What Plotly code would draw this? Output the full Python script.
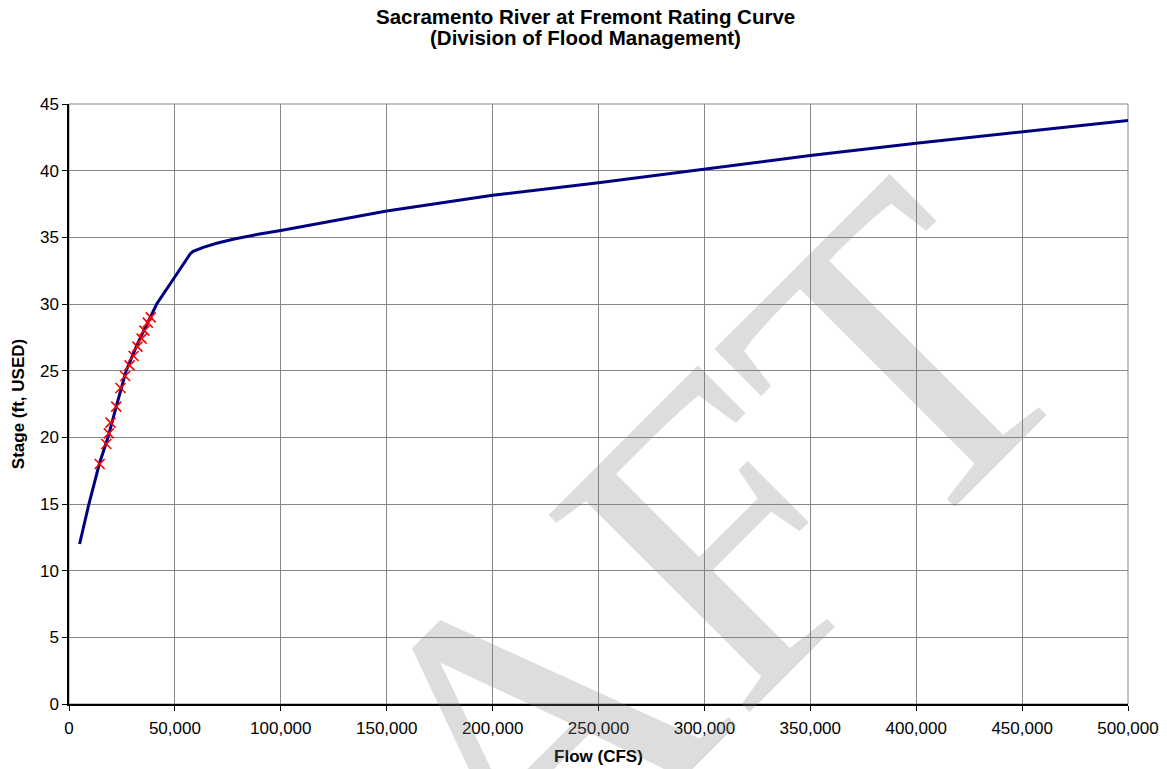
import plotly.graph_objects as go

# Rating curve (flow in CFS, stage in ft USED)
curve_flow = [5000, 9400, 14300, 18400, 22300, 27000, 32000, 36500,
              41400, 49000, 57200, 58600, 63400, 69700, 78000, 90000, 100000, 150000,
              200000, 250000, 300000, 350000, 400000, 450000, 500000]
curve_stage = [12.0, 15.0, 18.0, 20.0, 22.3, 25.0, 26.9, 28.4,
               30.0, 31.8, 33.75, 33.95, 34.25, 34.56, 34.88, 35.25, 35.52, 36.98,
               38.15, 39.1, 40.1, 41.13, 42.06, 42.93, 43.76]

# Measured points (red crosses)
meas_flow = [14500, 17600, 18800, 19600, 22300, 24300, 26500, 28600, 30500,
             32300, 34300, 35600, 37200, 38600]
meas_stage = [18.0, 19.5, 20.3, 21.1, 22.3, 23.7, 24.6, 25.4, 26.1,
              26.8, 27.4, 28.0, 28.6, 29.0]

x_ticks = list(range(0, 500001, 50000))
y_ticks = list(range(0, 46, 5))

title_lines = ["Sacramento River at Fremont Rating Curve", "(Division of Flood Management)"]
x_title = "Flow (CFS)"
y_title = "Stage (ft, USED)"
watermark = "DRAFT"

fig = go.Figure()
fig.add_trace(go.Scatter(
    x=curve_flow, y=curve_stage, mode="lines",
    line=dict(color="#000080", width=3),
    showlegend=False, hoverinfo="skip",
))
fig.add_trace(go.Scatter(
    x=meas_flow, y=meas_stage, mode="markers",
    marker=dict(symbol="x-thin", size=10, line=dict(color="#FF0000", width=1.6), color="#FF0000"),
    showlegend=False,
))

grid = "#868686"
fig.update_layout(
    width=1167, height=769,
    margin=dict(l=69, r=39, t=104, b=65, pad=0, autoexpand=False),
    paper_bgcolor="white", plot_bgcolor="white",
    font=dict(family="Liberation Sans, Arial, sans-serif", size=17, color="black"),
    xaxis=dict(
        range=[0, 500000], tickvals=x_ticks, tickformat=",d", automargin=False,
        showgrid=True, gridcolor=grid, gridwidth=1,
        showline=True, linecolor="black", linewidth=1.5,
        ticks="outside", ticklen=5, tickcolor="black", tickwidth=1,
        ticklabelstandoff=3,
        zeroline=False,
        title=dict(text="<b>" + x_title + "</b>", font=dict(size=17), standoff=13),
        tickfont=dict(size=17),
    ),
    yaxis=dict(
        range=[0, 45], tickvals=y_ticks, automargin=False,
        showgrid=True, gridcolor=grid, gridwidth=1,
        showline=True, linecolor="black", linewidth=1.5,
        ticks="outside", ticklen=5, tickcolor="black", tickwidth=1,
        zeroline=False,
        title=dict(text="<b>" + y_title + "</b>", font=dict(size=17), standoff=11),
        tickfont=dict(size=17),
    ),
)

# plot area border (top/right in gridline gray)
fig.add_shape(type="rect", xref="paper", yref="paper", x0=0, y0=0, x1=1, y1=1,
              line=dict(color=grid, width=1), layer="below")

# Two-line bold title
for txt, ypix in zip(title_lines, [16.5, 37.5]):
    fig.add_annotation(
        text="<b>" + txt + "</b>", xref="paper", yref="paper",
        x=(585 - 69) / 1059, y=(704 - ypix) / 600,
        xanchor="center", yanchor="middle", showarrow=False,
        font=dict(size=20.5, family="Liberation Sans, Arial, sans-serif", color="black"),
    )

# DRAFT watermark
fig.add_annotation(
    text=watermark, xref="paper", yref="paper", x=0.40, y=-0.10,
    xanchor="center", yanchor="middle", showarrow=False, textangle=-45,
    font=dict(family="Liberation Serif, Times New Roman, serif", size=430,
              color="rgba(128,128,128,0.27)"),
)

fig.write_html("out.html")
